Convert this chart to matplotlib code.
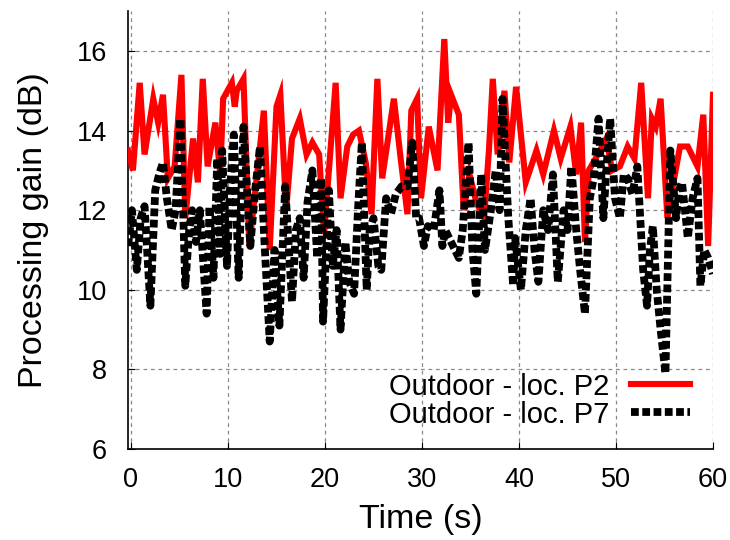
import matplotlib
matplotlib.use("Agg")
import matplotlib.pyplot as plt

plt.rcParams['font.family'] = ['Liberation Sans', 'DejaVu Sans']

# Outdoor - loc. P2 (red, solid)
t_p2 = [-0.3, 0.2, 0.9, 1.4, 2.3, 2.8, 3.3, 3.8, 4.5, 5.2, 5.6, 6.4, 6.9, 7.4, 7.9,
        8.7, 9.2, 9.5, 10.4, 10.7, 10.9, 11.6, 12.2, 13.7, 14.3, 15.0, 15.4, 16.0,
        16.6, 17.4, 18.1, 18.7, 19.4, 19.9, 21.1, 21.6, 22.3, 22.9, 23.5, 24.2,
        24.8, 25.4, 25.9, 26.5, 27.1, 27.8, 28.5, 28.9, 29.5, 29.9, 30.7, 31.6,
        32.3, 32.7, 33.0, 33.8, 34.3, 34.9, 35.6, 36.4, 36.9, 37.3, 37.8, 38.5,
        39.0, 39.7, 40.7, 41.8, 42.5, 43.6, 44.3, 45.3, 45.9, 46.4, 46.8, 47.2,
        47.9, 49.0, 49.6, 50.4, 51.2, 51.9, 52.6, 53.3, 53.7, 54.1, 54.6, 55.3,
        56.0, 56.6, 57.4, 58.4, 59.0, 59.5, 60.0]
g_p2 = [13.5, 13.0, 15.2, 13.4, 14.8, 14.2, 14.9, 12.8, 13.1, 15.4, 11.8, 13.8, 12.7, 15.3, 13.1,
        14.2, 12.9, 14.8, 15.2, 14.6, 15.0, 15.3, 11.1, 14.5, 11.0, 14.6, 14.9, 12.0,
        13.8, 14.3, 13.4, 13.7, 13.4, 11.4, 15.2, 12.3, 13.6, 13.9, 14.0, 13.2,
        11.9, 15.3, 12.8, 13.8, 14.8, 13.3, 11.9, 14.5, 14.8, 12.3, 14.1, 13.0,
        16.3, 14.2, 14.9, 14.4, 12.0, 12.9, 12.2, 11.8, 13.5, 15.3, 13.4, 15.0,
        13.2, 15.1, 12.7, 13.5, 12.9, 14.0, 13.3, 14.1, 12.9, 14.2, 11.2, 13.0,
        13.3, 13.8, 13.0, 13.1, 13.6, 13.3, 15.2, 12.3, 14.3, 14.1, 14.8, 11.8,
        12.8, 13.6, 13.6, 13.1, 14.4, 11.1, 14.9]

# Outdoor - loc. P7 (black, dashed)
t_p7 = [-0.3, 0.1, 0.6, 1.0, 1.4, 2.0, 2.5, 2.9, 3.3, 3.7, 4.2, 4.6, 5.1, 5.6, 6.0,
        6.3, 6.7, 7.1, 7.8, 8.1, 8.5, 8.9, 9.2, 9.4, 9.9, 10.2, 10.6, 11.1, 11.6,
        12.3, 12.8, 13.3, 13.7, 14.3, 14.8, 15.3, 15.9, 16.6, 17.0, 17.4, 17.8,
        18.2, 18.7, 19.2, 19.6, 19.8, 20.4, 20.8, 21.2, 21.6, 22.1, 22.5, 23.0,
        23.4, 23.8, 24.3, 24.6, 25.0, 25.5, 25.8, 26.3, 26.8, 27.3, 27.9, 28.5,
        29.0, 29.4, 29.7, 30.2, 30.6, 31.2, 31.8, 32.1, 32.4, 33.0, 33.4, 33.8,
        34.2, 34.8, 35.2, 35.6, 36.1, 36.5, 37.1, 37.6, 38.0, 38.3, 38.9, 39.4,
        39.6, 40.2, 40.7, 41.2, 41.6, 42.0, 42.5, 43.0, 43.5, 44.0, 44.6, 45.0,
        45.4, 45.9, 46.3, 46.8, 47.3, 47.7, 48.2, 48.7, 49.0, 49.4, 49.9, 50.4,
        50.8, 51.2, 51.7, 52.2, 52.8, 53.2, 53.5, 53.8, 54.2, 54.6, 55.1, 55.6,
        56.2, 56.5, 56.8, 57.2, 57.4, 57.9, 58.4, 58.7, 59.1, 59.5, 60.0]
g_p7 = [11.1, 12.0, 10.5, 11.8, 12.1, 9.6, 12.5, 12.9, 13.2, 12.3, 11.5, 12.0, 14.3, 10.1, 11.5,
        12.0, 11.2, 12.0, 9.4, 12.1, 10.3, 13.3, 10.9, 13.5, 10.6, 12.5, 13.9, 10.3, 14.1,
        11.1, 12.5, 13.6, 11.5, 8.7, 11.0, 9.1, 12.6, 9.7, 11.5, 11.8, 10.3,
        12.2, 13.0, 10.8, 12.8, 9.2, 12.5, 10.6, 11.5, 9.0, 11.2, 10.2, 9.9,
        12.0, 13.7, 10.0, 11.5, 11.8, 10.6, 10.5, 12.3, 11.9, 12.4, 12.6, 12.6,
        13.7, 11.8, 11.8, 11.1, 11.6, 11.5, 12.5, 11.1, 11.5, 11.2, 11.0, 10.8,
        11.5, 13.7, 11.0, 9.9, 12.9, 11.0, 12.0, 13.0, 12.0, 14.8, 11.8, 10.1,
        11.3, 10.0, 11.5, 12.3, 11.0, 10.2, 12.0, 11.5, 12.9, 10.2, 12.0, 11.5,
        13.1, 11.5, 10.5, 9.4, 12.3, 12.8, 14.3, 11.8, 13.0, 14.3, 12.3, 11.8,
        12.9, 12.8, 12.4, 13.1, 10.5, 9.6, 11.0, 11.6, 10.0, 9.0, 7.9, 13.5,
        11.8, 12.5, 12.7, 11.8, 11.3, 12.3, 12.8, 10.1, 11.0, 10.8, 10.4]

x_ticks = [0, 10, 20, 30, 40, 50, 60]
y_ticks = [6, 8, 10, 12, 14, 16]

fig = plt.figure(figsize=(7.3, 5.4), dpi=100)
ax = fig.add_axes([0.1753, 0.1685, 0.8014, 0.8108])

ax.plot(t_p2, g_p2, color='#ff0000', lw=4.4, solid_joinstyle='miter',
        label='Outdoor - loc. P2', zorder=3)
ax.plot(t_p7, g_p7, color='black', lw=5.6, linestyle=(0, (1.0, 0.45)),
        label='Outdoor - loc. P7', zorder=4)

ax.set_xlim(-0.31, 60)
ax.set_ylim(6, 17)
ax.set_xticks(x_ticks)
ax.set_yticks(y_ticks)
ax.tick_params(direction='in', length=5, width=0.8, labelsize=19.5)
ax.tick_params(axis='y', pad=15)
ax.tick_params(axis='x', pad=13)
ax.grid(True, color='#888888', linestyle=(0, (3, 3)), lw=0.9)
for s in ['top', 'right']:
    ax.spines[s].set_visible(False)
for s in ['left', 'bottom']:
    ax.spines[s].set_linewidth(1.2)

ax.set_xlabel('Time (s)', fontsize=24.5, labelpad=8)
ax.set_ylabel('Processing gain (dB)', fontsize=24.5, labelpad=20)

ax.legend(loc='lower right', bbox_to_anchor=(0.995, 0.0), frameon=False,
          markerfirst=False, fontsize=21, handlelength=2.0, handletextpad=0.75,
          labelspacing=0.0, borderpad=0.2)

fig.savefig('out.png', dpi=100)
